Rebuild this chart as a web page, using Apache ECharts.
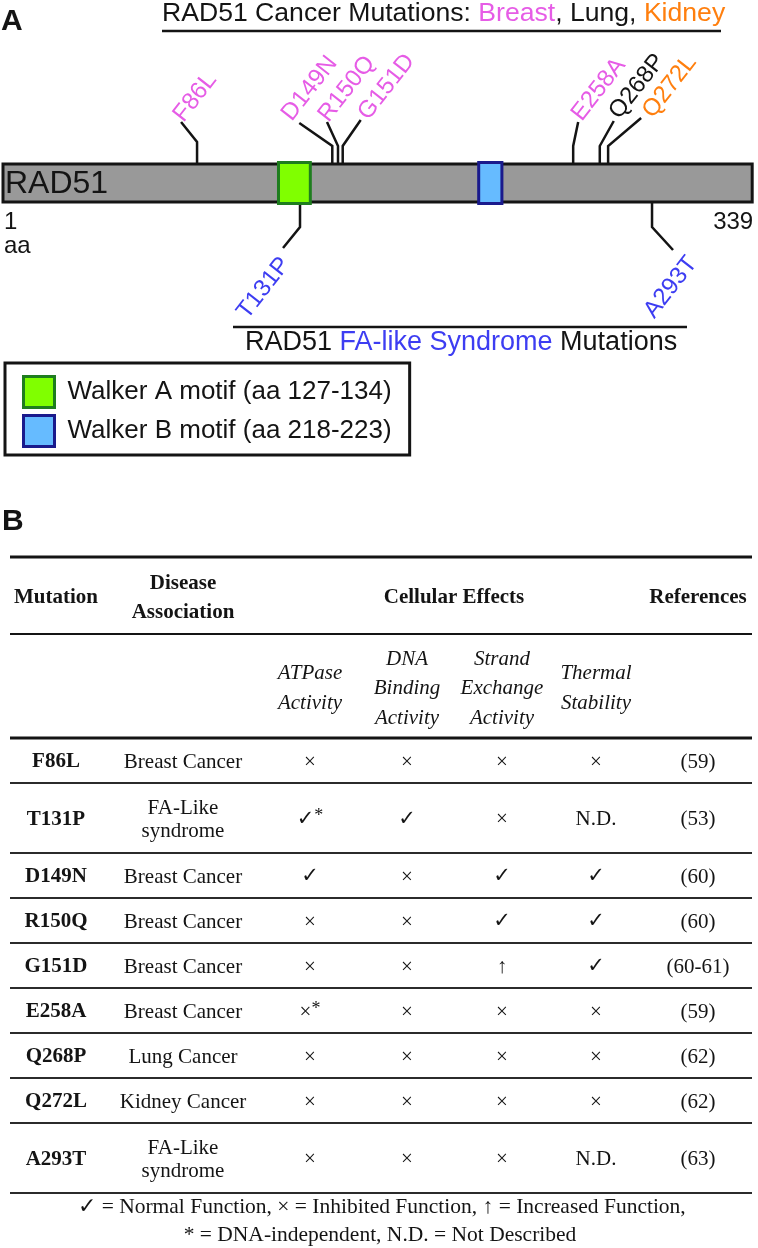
<!DOCTYPE html>
<html>
<head>
<meta charset="utf-8">
<script src="https://cdn.jsdelivr.net/npm/echarts@6/dist/echarts.min.js"></script>
<style>
html,body{margin:0;padding:0;background:#ffffff;}
#chart{width:758px;height:1248px;}
</style>
</head>
<body>
<div id="chart"></div>
<script>
// ---------------- DATA ----------------
const proteinName = 'RAD51';
const proteinLength = 339;
const walkerA = [127, 134];
const walkerB = [218, 223];
const cancerTypes = ['Breast', 'Lung', 'Kidney'];
const mutations = ['F86L', 'T131P', 'D149N', 'R150Q', 'G151D', 'E258A', 'Q268P', 'Q272L', 'A293T'];
const mutationPos = [86, 131, 149, 150, 151, 258, 268, 272, 293];
const mutationGroup = ['Breast', 'FA', 'Breast', 'Breast', 'Breast', 'Breast', 'Lung', 'Kidney', 'FA'];
const diseases = ['Breast Cancer', 'FA-Like\nsyndrome', 'Breast Cancer', 'Breast Cancer', 'Breast Cancer',
                  'Breast Cancer', 'Lung Cancer', 'Kidney Cancer', 'FA-Like\nsyndrome'];
const atpaseActivity   = ['×', '✓*', '✓', '×', '×', '×*', '×', '×', '×'];
const dnaBinding       = ['×', '✓', '×', '×', '×', '×', '×', '×', '×'];
const strandExchange   = ['×', '×', '✓', '✓', '↑', '×', '×', '×', '×'];
const thermalStability = ['×', 'N.D.', '✓', '✓', '✓', '×', '×', '×', 'N.D.'];
const references = ['(59)', '(53)', '(60)', '(60)', '(60-61)', '(59)', '(62)', '(62)', '(63)'];
const headerLabels = ['Mutation', 'Disease\nAssociation', 'Cellular Effects', 'References'];
const effectLabels = ['ATPase\nActivity', 'DNA\nBinding\nActivity', 'Strand\nExchange\nActivity', 'Thermal\nStability'];
const footnotes = ['✓ = Normal Function, × = Inhibited Function, ↑ = Increased Function,',
                   '* = DNA-independent, N.D. = Not Described'];

// ---------------- STYLE / LAYOUT ----------------
const SANS = '"Liberation Sans", Arial, Helvetica, sans-serif';
const SERIF = '"Liberation Serif", "Times New Roman", Times, serif';
const INK = '#141414';
const groupColor = { Breast: '#e65ce6', Lung: '#141414', Kidney: '#ff7f0e', FA: '#3d3df2' };
// leader-line drawing offsets (px): base nudge, vertical rise, diagonal dx/dy, label nudge lx/ly
const leaderStyle = {
  F86L:  { shift: 4,   v: 22, dx: -16, dy: -20, lx: 4,  ly: 2 },
  T131P: { shift: 7.5, v: 25, dx: -17, dy: 21,  lx: -7, ly: 5 },
  D149N: { shift: 0,   v: 18, dx: -33, dy: -23, lx: -6, ly: 0 },
  R150Q: { shift: 3.5, v: 18, dx: -11, dy: -24, lx: 3,  ly: 2 },
  G151D: { shift: 6,   v: 18, dx: 18,  dy: -26, lx: 9,  ly: 2 },
  E258A: { shift: 0,   v: 18, dx: 5,   dy: -24, lx: 5,  ly: 1 },
  Q268P: { shift: 4.5, v: 18, dx: 14,  dy: -25, lx: 7,  ly: 0 },
  Q272L: { shift: 4,   v: 18, dx: 33,  dy: -28, lx: 13, ly: 2 },
  A293T: { shift: 1.5, v: 25, dx: 21,  dy: 23,  lx: 10, ly: 2 }
};
const labelAngle = 52 * Math.PI / 180;
const motifStyle = {
  A: { fill: '#80ff00', stroke: '#1e7d1e', widen: 1.8, nudge: 3 },
  B: { fill: '#66bbff', stroke: '#1a1a8c', widen: 1.75, nudge: 0 }
};
// table layout (px units of the table grid)
const tableWidth = 742;
const colCenters = [46, 173, 300, 397, 492, 586, 688];
const effectsCenter = 444;
const headH = 77, subH = 104;
const rowHeights = diseases.map(d => d.split('\n').length > 1 ? 70 : 45);
const rowTops = [];
rowHeights.reduce((acc, h) => { rowTops.push(acc); return acc + h; }, headH + subH);

function txt(x, y, text, font, fill, align, valign, extra) {
  const st = Object.assign({ text: text, font: font, fill: fill,
    align: align, textAlign: align, verticalAlign: valign, textVerticalAlign: valign }, extra || {});
  return { type: 'text', x: x, y: y, style: st };
}

// symbol cells: bigger check mark, raised asterisk
const cellRich = {
  c: { font: 'bold 21px "DejaVu Sans", sans-serif', fill: INK, lineHeight: 24 },
  s: { font: '18px ' + SERIF, fill: INK, verticalAlign: 'top', lineHeight: 24 }
};
function cellText(c) {
  return c.replace(/✓/g, '{c|✓}').replace(/\*/g, '{s|*}');
}

// ---------------- RENDERERS ----------------
function renderProtein(params, api) {
  const a = api.coord([api.value(0) - 1, 1]);
  const b = api.coord([api.value(1), 0]);
  return {
    type: 'group',
    children: [
      { type: 'rect', shape: { x: a[0], y: a[1], width: b[0] - a[0], height: b[1] - a[1] },
        style: { fill: '#999999', stroke: INK, lineWidth: 3 } },
      txt(a[0] + 2, (a[1] + b[1]) / 2 + 1.5, proteinName, '32px ' + SANS, INK, 'left', 'middle'),
      txt(a[0] + 1, b[1] + 8, String(api.value(0)) + '\naa', '24px ' + SANS, INK, 'left', 'top', { lineHeight: 24 }),
      txt(b[0] + 1, b[1] + 8, String(api.value(1)), '24px ' + SANS, INK, 'right', 'top', { lineHeight: 24 })
    ]
  };
}

function renderMotif(ms) {
  return function (params, api) {
    const a = api.coord([api.value(0) - 0.5, 1]);
    const b = api.coord([api.value(1) + 0.5, 0]);
    const cx = (a[0] + b[0]) / 2 + ms.nudge;
    const w = (b[0] - a[0]) * ms.widen;
    return { type: 'rect', shape: { x: cx - w / 2, y: a[1] - 1.5, width: w, height: b[1] - a[1] + 3 },
             style: { fill: ms.fill, stroke: ms.stroke, lineWidth: 3 } };
  };
}

function renderMutation(params, api) {
  const i = params.dataIndex;
  const name = mutations[i];
  const below = mutationGroup[i] === 'FA';
  const L = leaderStyle[name];
  const base = api.coord([api.value(0), below ? 0 : 1]);
  const x0 = base[0] + L.shift, y0 = base[1];
  const y1 = y0 + (below ? L.v : -L.v);
  const x2 = x0 + L.dx, y2 = y1 + L.dy;
  const ax = below ? x2 + L.lx : x2 + L.lx + 2.8;
  const ay = below ? y2 + L.ly : y2 + L.ly + 2.2;
  const label = txt(ax, ay, name, '24px ' + SANS,
    groupColor[mutationGroup[i]], below ? 'right' : 'left', below ? 'top' : 'bottom');
  label.rotation = labelAngle;
  return {
    type: 'group',
    children: [
      { type: 'polyline', shape: { points: [[x0, y0], [x0, y1], [x2, y2]] },
        style: { stroke: INK, lineWidth: 2.5, fill: null } },
      label
    ]
  };
}

function hLine(api, yU, lw, color) {
  const a = api.coord([0, yU]), b = api.coord([tableWidth, yU]);
  return { type: 'line', shape: { x1: a[0], y1: a[1], x2: b[0], y2: b[1] },
           style: { stroke: color || INK, lineWidth: lw } };
}

function renderHeader(params, api) {
  const children = [hLine(api, 0, 3), hLine(api, headH, 2), hLine(api, headH + subH, 3)];
  const hy = headH / 2 + 2.5;
  const hx = [colCenters[0], colCenters[1], effectsCenter, colCenters[6]];
  headerLabels.forEach((t, j) => {
    const p = api.coord([hx[j], hy]);
    children.push(txt(p[0], p[1], t, 'bold 21px ' + SERIF, INK, 'center', 'middle', { lineHeight: 29 }));
  });
  const sy = headH + subH / 2 + 2.5;
  effectLabels.forEach((t, j) => {
    const p = api.coord([colCenters[2 + j], sy]);
    children.push(txt(p[0], p[1], t, 'italic 21px ' + SERIF, INK, 'center', 'middle', { lineHeight: 29.5 }));
  });
  return { type: 'group', children: children };
}

function renderRow(params, api) {
  const i = params.dataIndex;
  const top = rowTops[i], h = rowHeights[i];
  const cy = top + h / 2 + 1.5;
  const cells = [mutations[i], diseases[i], atpaseActivity[i], dnaBinding[i], strandExchange[i],
                 thermalStability[i], references[i]];
  const children = cells.map((c, j) => {
    const p = api.coord([colCenters[j], cy]);
    if (j >= 2 && j <= 5) {
      return txt(p[0], p[1], cellText(c), '21px ' + SERIF, INK, 'center', 'middle', { rich: cellRich });
    }
    return txt(p[0], p[1], c, (j === 0 ? 'bold ' : '') + '21px ' + SERIF, INK, 'center', 'middle', { lineHeight: 23 });
  });
  children.push(hLine(api, top + h, 2, '#2b2b2b'));
  return { type: 'group', children: children };
}

// ---------------- CHART ----------------
const chart = echarts.init(document.getElementById('chart'), null, { renderer: 'canvas', width: 758, height: 1248 });
const walkerAName = 'Walker A motif (aa ' + walkerA[0] + '-' + walkerA[1] + ')';
const walkerBName = 'Walker B motif (aa ' + walkerB[0] + '-' + walkerB[1] + ')';
const TF = '26.6px ' + SANS;
const titleRich = {
  k: { fill: INK, font: TF },
  Breast: { fill: groupColor.Breast, font: TF },
  Lung: { fill: groupColor.Lung, font: TF },
  Kidney: { fill: groupColor.Kidney, font: TF }
};
const topTitle = '{k|' + proteinName + ' Cancer Mutations: }' +
  cancerTypes.map(c => '{' + c + '|' + c + '}').join('{k|, }');
const BF = '27px ' + SANS;

const topTitleEl = txt(162, 14, topTitle, TF, INK, 'left', 'middle', { rich: titleRich });
const faTitleEl = txt(245, 343, '{k|' + proteinName + ' }{f|FA-like Syndrome}{k| Mutations}', BF, INK, 'left', 'middle',
  { rich: { k: { fill: INK, font: BF }, f: { fill: groupColor.FA, font: BF } } });

const option = {
  animation: false,
  backgroundColor: '#ffffff',
  grid: [
    { left: 0, top: 164, width: 758, height: 38 },
    { left: 10, top: 557, width: tableWidth, height: 691 }
  ],
  xAxis: [
    { gridIndex: 0, type: 'value', min: -1.357, max: 341.63, show: false },
    { gridIndex: 1, type: 'value', min: 0, max: tableWidth, show: false }
  ],
  yAxis: [
    { gridIndex: 0, type: 'value', min: 0, max: 1, show: false },
    { gridIndex: 1, type: 'value', min: 0, max: 691, inverse: true, show: false }
  ],
  legend: {
    orient: 'vertical', left: 5, top: 363,
    padding: [12, 18, 7, 17], itemGap: 5, itemWidth: 31, itemHeight: 31,
    icon: 'rect', borderColor: INK, borderWidth: 3, backgroundColor: '#ffffff',
    selectedMode: false,
    textStyle: { fontSize: 26, fontFamily: SANS, color: INK, padding: [0, 0, 0, 8] },
    data: [
      { name: walkerAName, itemStyle: { color: motifStyle.A.fill, borderColor: motifStyle.A.stroke, borderWidth: 3 } },
      { name: walkerBName, itemStyle: { color: motifStyle.B.fill, borderColor: motifStyle.B.stroke, borderWidth: 3 } }
    ]
  },
  graphic: { elements: [
    txt(1, 22, 'A', 'bold 30px ' + SANS, INK, 'left', 'middle'),
    txt(2, 522, 'B', 'bold 30px ' + SANS, INK, 'left', 'middle'),
    topTitleEl,
    { type: 'line', shape: { x1: 162, y1: 31, x2: 721, y2: 31 }, style: { stroke: INK, lineWidth: 2.5 } },
    { type: 'line', shape: { x1: 233, y1: 327, x2: 687, y2: 327 }, style: { stroke: INK, lineWidth: 2.5 } },
    faTitleEl,
    txt(382, 1207, footnotes[0], '21.5px ' + SERIF, INK, 'center', 'middle'),
    txt(380, 1235, footnotes[1], '21.5px ' + SERIF, INK, 'center', 'middle')
  ] },
  series: [
    { type: 'custom', name: 'mutations', xAxisIndex: 0, yAxisIndex: 0, renderItem: renderMutation,
      data: mutationPos.map(p => [p, 1]), silent: true, z: 1 },
    { type: 'custom', name: proteinName, xAxisIndex: 0, yAxisIndex: 0, renderItem: renderProtein,
      data: [[1, proteinLength]], silent: true, z: 2 },
    { type: 'custom', name: walkerAName, xAxisIndex: 0, yAxisIndex: 0,
      renderItem: renderMotif(motifStyle.A),
      itemStyle: { color: motifStyle.A.fill, borderColor: motifStyle.A.stroke, borderWidth: 3 },
      data: [walkerA], silent: true, z: 3 },
    { type: 'custom', name: walkerBName, xAxisIndex: 0, yAxisIndex: 0,
      renderItem: renderMotif(motifStyle.B),
      itemStyle: { color: motifStyle.B.fill, borderColor: motifStyle.B.stroke, borderWidth: 3 },
      data: [walkerB], silent: true, z: 3 },
    { type: 'custom', name: 'tableHeader', xAxisIndex: 1, yAxisIndex: 1, renderItem: renderHeader,
      data: [[0, 0]], silent: true },
    { type: 'custom', name: 'tableRows', xAxisIndex: 1, yAxisIndex: 1, renderItem: renderRow,
      data: mutations.map((m, i) => [0, rowTops[i]]), silent: true }
  ]
};
chart.setOption(option);
</script>
</body>
</html>
